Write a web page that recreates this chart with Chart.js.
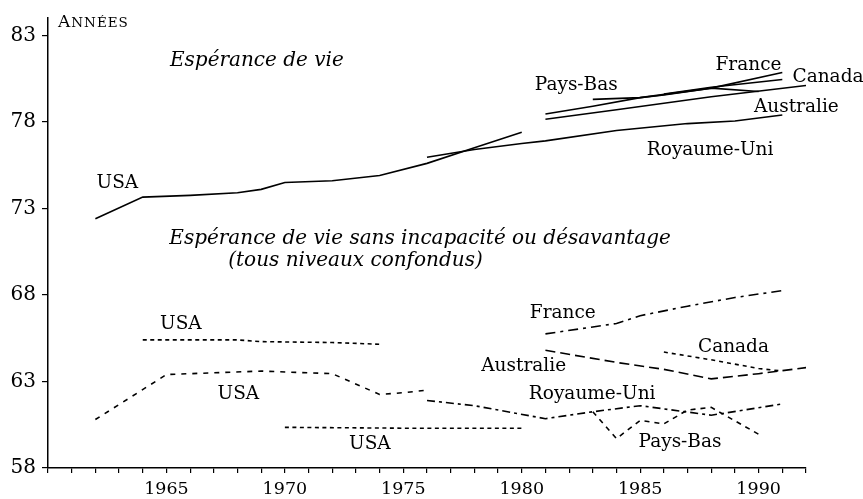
<!DOCTYPE html>
<html><head><meta charset="utf-8">
<script src="https://cdn.jsdelivr.net/npm/chart.js@4"></script>
<style>html,body{margin:0;padding:0;background:#fff;} canvas{display:block;}</style>
</head><body>
<canvas id="c" width="863" height="499"></canvas>
<script>
// ---- Espérance de vie (solid lines) ----
const usaLEYears   = [1962,1964,1966,1968,1969,1970,1972,1974,1976,1978,1980];
const usaLEValues  = [72.4,73.65,73.75,73.9,74.1,74.5,74.6,74.9,75.6,76.5,77.4];
const ukLEYears    = [1976,1978,1980,1981,1984,1987,1989,1991];
const ukLEValues   = [75.95,76.4,76.75,76.9,77.5,77.9,78.05,78.4];
const nlLEYears    = [1983,1985,1986,1988,1990];
const nlLEValues   = [79.3,79.4,79.55,79.95,79.75];
const frLEYears    = [1981,1983,1985,1988,1991];
const frLEValues   = [78.45,78.9,79.4,79.95,80.85];
const caLEYears    = [1986,1988,1991];
const caLEValues   = [79.6,80.0,80.45];
const auLEYears    = [1981,1984,1988,1992];
const auLEValues   = [78.15,78.7,79.45,80.1];

// ---- Espérance de vie sans incapacité (dashed lines) ----
const usa1DFYears  = [1964,1966,1968,1969,1972,1974];
const usa1DFValues = [65.4,65.4,65.4,65.3,65.25,65.15];
const usa2DFYears  = [1962,1965,1967,1969,1972,1974,1975,1976];
const usa2DFValues = [60.8,63.4,63.5,63.6,63.45,62.25,62.35,62.5];
const usa3DFYears  = [1970,1975,1980];
const usa3DFValues = [60.35,60.3,60.3];
const ukDFYears    = [1976,1978,1981,1983,1985,1988,1991];
const ukDFValues   = [61.9,61.6,60.85,61.25,61.6,61.05,61.7];
const nlDFYears    = [1983,1984,1985,1986,1987,1988,1990];
const nlDFValues   = [61.25,59.7,60.75,60.55,61.35,61.5,59.95];
const frDFYears    = [1981,1983,1984,1985,1987,1989,1991];
const frDFValues   = [65.75,66.15,66.35,66.8,67.35,67.85,68.25];
const auDFYears    = [1981,1984,1986,1988,1990,1992];
const auDFValues   = [64.8,64.1,63.7,63.15,63.45,63.8];
const caDFYears    = [1986,1988,1990,1991];
const caDFValues   = [64.7,64.25,63.75,63.6];

// ---- axes ----
const xTickYears  = [1960,1961,1962,1963,1964,1965,1966,1967,1968,1969,1970,1971,1972,1973,1974,1975,1976,1977,1978,1979,1980,1981,1982,1983,1984,1985,1986,1987,1988,1989,1990,1991,1992];
const xLabelYears = [1965,1970,1975,1980,1985,1990];
const yTickValues = [58,63,68,73,78,83];

// ---- text annotations (year, value anchor = left / baseline) ----
const serif = "'DejaVu Serif', serif";
const titleFont = 'italic 20px ' + serif;
const labelFont = '18.5px ' + serif;
const notes = [
  {t:'Espérance de vie', x:1965.15, y:81.22, f:titleFont},
  {t:'Espérance de vie sans incapacité ou désavantage', x:1965.12, y:70.93, f:titleFont},
  {t:'(tous niveaux confondus)', x:1967.61, y:69.67, f:titleFont},
  {t:'USA', x:1962.05, y:74.17, f:labelFont},
  {t:'Pays-Bas', x:1980.55, y:79.82, f:labelFont},
  {t:'France', x:1988.18, y:80.97, f:labelFont},
  {t:'Canada', x:1991.43, y:80.3, f:labelFont},
  {t:'Australie', x:1989.8, y:78.57, f:labelFont},
  {t:'Royaume-Uni', x:1985.28, y:76.09, f:labelFont},
  {t:'USA', x:1964.73, y:66.03, f:labelFont},
  {t:'USA', x:1967.16, y:61.97, f:labelFont},
  {t:'USA', x:1972.71, y:59.07, f:labelFont},
  {t:'France', x:1980.34, y:66.66, f:labelFont},
  {t:'Canada', x:1987.44, y:64.69, f:labelFont},
  {t:'Australie', x:1978.29, y:63.59, f:labelFont},
  {t:'Royaume-Uni', x:1980.3, y:62.0, f:labelFont},
  {t:'Pays-Bas', x:1984.93, y:59.21, f:labelFont}
];

function pts(xs, ys){ return xs.map((x,i)=>({x:x, y:ys[i]})); }
function ds(xs, ys, dash){
  return {data:pts(xs,ys), borderColor:'#000', borderWidth:1.6, borderDash:dash||[],
          pointRadius:0, fill:false, tension:0};
}

const datasets = [
  ds(usaLEYears, usaLEValues),
  ds(ukLEYears, ukLEValues),
  ds(nlLEYears, nlLEValues),
  ds(frLEYears, frLEValues),
  ds(caLEYears, caLEValues),
  ds(auLEYears, auLEValues),
  ds(usa1DFYears, usa1DFValues, [4,3.5]),
  ds(usa2DFYears, usa2DFValues, [5,6]),
  ds(usa3DFYears, usa3DFValues, [4,3.5]),
  ds(ukDFYears, ukDFValues, [8,4,3,4]),
  ds(nlDFYears, nlDFValues, [5,5]),
  ds(frDFYears, frDFValues, [10,5,3,5]),
  ds(auDFYears, auDFValues, [10,5]),
  ds(caDFYears, caDFValues, [4,4])
];

const textPlugin = {
  id:'texts',
  afterDraw(chart){
    const ctx = chart.ctx, xs = chart.scales.x, ys = chart.scales.y;
    ctx.save();
    ctx.fillStyle = '#000';
    ctx.textBaseline = 'alphabetic';
    ctx.textAlign = 'left';
    notes.forEach(n=>{
      ctx.font = n.f;
      ctx.fillText(n.t, xs.getPixelForValue(n.x), ys.getPixelForValue(n.y));
    });
    // axis title "ANNÉES" in small capitals
    const ax = chart.chartArea.left + 10, ay = 27;
    ctx.font = '17px ' + serif;
    ctx.fillText('A', ax, ay);
    const w = ctx.measureText('A').width;
    ctx.font = '13.5px ' + serif;
    try { ctx.letterSpacing = '1px'; } catch(e) {}
    ctx.fillText('NNÉES', ax + w + 1, ay);
    ctx.restore();
  }
};

new Chart(document.getElementById('c'), {
  type:'line',
  data:{datasets},
  options:{
    responsive:false, animation:false, devicePixelRatio:1,
    layout:{padding:{left:0, right:57, top:16, bottom:0}},
    plugins:{legend:{display:false}, tooltip:{enabled:false}},
    scales:{
      x:{
        type:'linear', min:1960, max:1992,
        afterBuildTicks:(s)=>{ s.ticks = xTickYears.map(v=>({value:v})); },
        afterFit:(s)=>{ s.height = 31; },
        ticks:{autoSkip:false, maxRotation:0, padding:6, color:'#000',
               font:{family:serif, size:17.5},
               callback:(v)=> xLabelYears.includes(v) ? String(v) : ''},
        grid:{drawOnChartArea:false, drawTicks:true, tickLength:5, color:'#000', lineWidth:1.2},
        border:{display:true, color:'#000', width:1.5}
      },
      y:{
        type:'linear', min:58, max:84,
        afterBuildTicks:(s)=>{ s.ticks = yTickValues.map(v=>({value:v})); },
        afterFit:(s)=>{ s.width = 48; },
        ticks:{padding:6, color:'#000', font:{family:serif, size:20}},
        grid:{drawOnChartArea:false, drawTicks:true, tickLength:6, color:'#000', lineWidth:1.2},
        border:{display:true, color:'#000', width:1.5}
      }
    }
  },
  plugins:[textPlugin]
});
</script>
</body></html>
